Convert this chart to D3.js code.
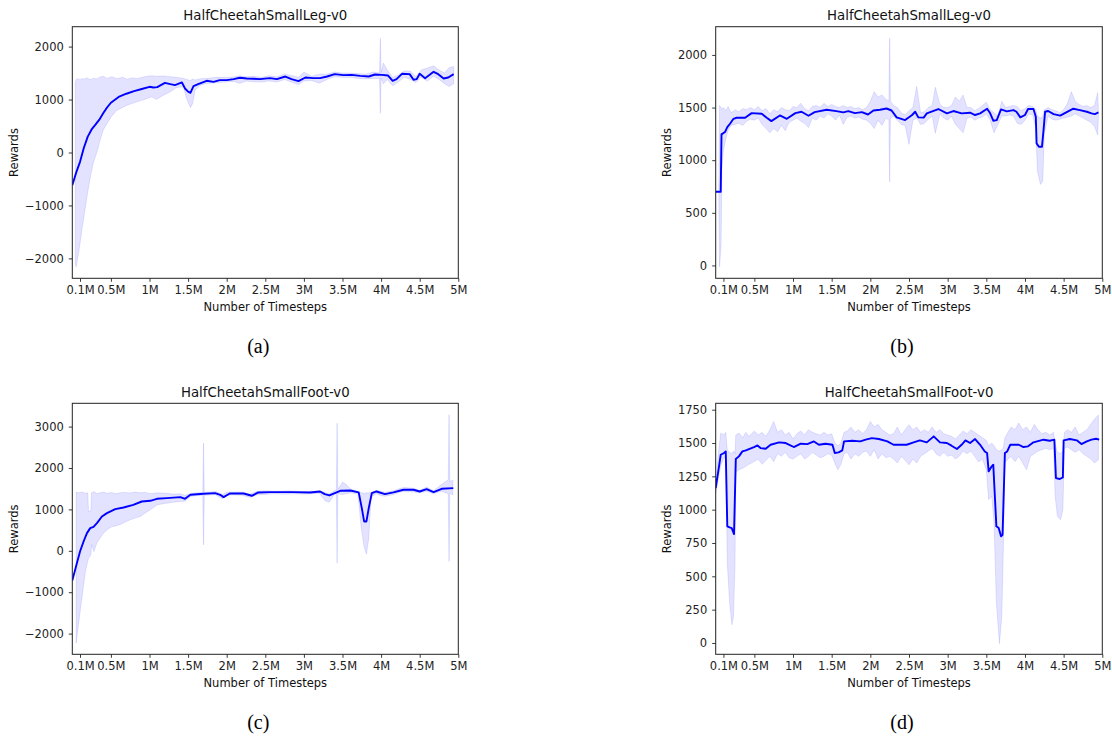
<!DOCTYPE html>
<html>
<head>
<meta charset="utf-8">
<script src="https://cdn.jsdelivr.net/npm/d3@7"></script>
<style>
body { margin: 0; background: #fff; }
svg { font-family: "DejaVu Sans", sans-serif; }
</style>
</head>
<body>
<div class="chart"></div>
<script>
// x values are in millions of timesteps
const xTicks = [0.1, 0.5, 1, 1.5, 2, 2.5, 3, 3.5, 4, 4.5, 5]
const xTickLabels = ['0.1M', '0.5M', '1M', '1.5M', '2M', '2.5M', '3M', '3.5M', '4M', '4.5M', '5M']

// (a) HalfCheetahSmallLeg-v0
const aYTicks = [-2000, -1000, 0, 1000, 2000]
const aDomain = [-2376, 2376]
const aMeanX = [
  0, 0.05, 0.1, 0.15, 0.2, 0.25, 0.3, 0.35, 0.4, 0.45,
  0.5, 0.6, 0.7, 0.8, 0.9, 1.0, 1.05, 1.1, 1.2, 1.27,
  1.33, 1.42, 1.46, 1.5, 1.53, 1.57, 1.63, 1.74, 1.83, 1.91,
  2.0, 2.09, 2.17, 2.26, 2.35, 2.43, 2.56, 2.65, 2.76, 2.84,
  2.93, 3.02, 3.12, 3.21, 3.3, 3.4, 3.51, 3.62, 3.73, 3.84,
  3.92, 4.01, 4.09, 4.15, 4.2, 4.27, 4.37, 4.42, 4.46, 4.5,
  4.57, 4.68, 4.74, 4.81, 4.87, 4.94]
const aMean = [
  -617, -380, -176, 90, 300, 435, 525, 620, 740, 850,
  940, 1050, 1110, 1160, 1200, 1241, 1228, 1235, 1316, 1291,
  1272, 1323, 1209, 1150, 1128, 1254, 1291, 1354, 1335, 1367,
  1367, 1386, 1411, 1398, 1392, 1385, 1404, 1385, 1435, 1385,
  1348, 1416, 1404, 1404, 1435, 1480, 1461, 1467, 1448, 1435,
  1473, 1467, 1454, 1354, 1385, 1486, 1480, 1373, 1385, 1486,
  1404, 1524, 1480, 1398, 1416, 1480]
const aBandX = [
  0.04, 0.05, 0.08, 0.1, 0.125, 0.15, 0.19, 0.23, 0.27, 0.32,
  0.36, 0.4, 0.45, 0.51, 0.58, 0.65, 0.71, 0.78, 0.84, 0.9,
  0.97, 1.03, 1.09, 1.18, 1.27, 1.35, 1.44, 1.48, 1.53, 1.56,
  1.59, 1.66, 1.74, 1.87, 2.0, 2.1, 2.17, 2.25, 2.35, 2.45,
  2.55, 2.65, 2.75, 2.85, 2.93, 3.0, 3.1, 3.2, 3.3, 3.4,
  3.5, 3.6, 3.7, 3.8, 3.9, 3.98, 3.99, 4.0, 4.03, 4.08,
  4.15, 4.22, 4.3, 4.38, 4.45, 4.52, 4.6, 4.68, 4.75, 4.82,
  4.88, 4.94]
const aBandLo = [
  -2100, -2160, -1909, -1720, -1450, -1216, -838, -491, -208, 13,
  233, 422, 548, 687, 800, 850, 894, 930, 957, 985,
  1020, 1052, 1001, 1083, 1146, 1228, 1241, 1020, 850, 926,
  1178, 1272, 1304, 1316, 1335, 1340, 1304, 1350, 1335, 1330,
  1350, 1330, 1380, 1320, 1285, 1350, 1360, 1310, 1380, 1430,
  1420, 1420, 1400, 1390, 1400, 1400, 740, 1410, 1300, 1380,
  1260, 1330, 1420, 1380, 1320, 1420, 1350, 1440, 1380, 1300,
  1247, 1300]
const aBandHi = [
  1330, 1380, 1395, 1370, 1400, 1385, 1410, 1375, 1400, 1390,
  1425, 1440, 1400, 1430, 1395, 1420, 1385, 1410, 1395, 1420,
  1440, 1450, 1440, 1445, 1430, 1420, 1400, 1380, 1360, 1390,
  1370, 1395, 1400, 1420, 1415, 1430, 1450, 1430, 1440, 1420,
  1450, 1430, 1480, 1450, 1420, 1520, 1440, 1480, 1480, 1520,
  1500, 1500, 1490, 1480, 1520, 1500, 2157, 1510, 1688, 1560,
  1420, 1460, 1540, 1540, 1430, 1560, 1594, 1638, 1560, 1500,
  1600, 1625]

// (b) HalfCheetahSmallLeg-v0
const bYTicks = [0, 500, 1000, 1500, 2000]
const bDomain = [-122, 2268]
const bMeanX = [
  0, 0.055, 0.065, 0.075, 0.12, 0.15, 0.185, 0.23, 0.27, 0.38,
  0.465, 0.595, 0.66, 0.72, 0.83, 0.92, 1.03, 1.11, 1.2, 1.28,
  1.435, 1.56, 1.65, 1.715, 1.8, 1.89, 1.97, 2.04, 2.125, 2.21,
  2.275, 2.34, 2.45, 2.54, 2.58, 2.62, 2.69, 2.73, 2.88, 2.99,
  3.075, 3.18, 3.29, 3.355, 3.42, 3.51, 3.55, 3.59, 3.635, 3.69,
  3.765, 3.85, 3.89, 3.94, 4.0, 4.04, 4.11, 4.14, 4.15, 4.18,
  4.22, 4.24, 4.26, 4.3, 4.37, 4.455, 4.54, 4.625, 4.71, 4.8,
  4.86, 4.905, 4.95]
const bMean = [
  700, 700, 700, 1245, 1267, 1314, 1346, 1393, 1403, 1403,
  1447, 1441, 1403, 1371, 1425, 1393, 1447, 1460, 1422, 1457,
  1479, 1466, 1454, 1466, 1447, 1457, 1434, 1472, 1479, 1491,
  1472, 1407, 1381, 1429, 1460, 1407, 1404, 1445, 1486, 1445,
  1467, 1445, 1451, 1429, 1445, 1489, 1445, 1375, 1381, 1482,
  1464, 1476, 1460, 1407, 1429, 1486, 1486, 1413, 1160, 1128,
  1128, 1286, 1460, 1467, 1438, 1423, 1457, 1489, 1476, 1460,
  1445, 1438, 1454]
const bBandX = [
  0.04, 0.05, 0.07, 0.08, 0.1, 0.13, 0.16, 0.2, 0.25, 0.3,
  0.35, 0.4, 0.45, 0.5, 0.55, 0.6, 0.65, 0.7, 0.75, 0.8,
  0.85, 0.9, 0.95, 1.0, 1.05, 1.1, 1.15, 1.2, 1.25, 1.3,
  1.35, 1.4, 1.45, 1.5, 1.55, 1.6, 1.65, 1.7, 1.75, 1.8,
  1.85, 1.9, 1.95, 2.0, 2.05, 2.1, 2.15, 2.2, 2.24, 2.25,
  2.26, 2.3, 2.35, 2.4, 2.45, 2.5, 2.55, 2.6, 2.65, 2.7,
  2.75, 2.8, 2.84, 2.9, 2.95, 3.0, 3.05, 3.1, 3.15, 3.2,
  3.25, 3.3, 3.35, 3.4, 3.45, 3.5, 3.55, 3.6, 3.65, 3.7,
  3.75, 3.8, 3.85, 3.9, 3.95, 4.0, 4.05, 4.1, 4.14, 4.16,
  4.2, 4.23, 4.25, 4.3, 4.35, 4.4, 4.45, 4.5, 4.55, 4.6,
  4.65, 4.7, 4.75, 4.8, 4.85, 4.9, 4.94, 4.95]
const bBandLo = [
  700, -13, 200, 900, 1093, 1200, 1283, 1330, 1340, 1350,
  1330, 1370, 1390, 1380, 1400, 1340, 1300, 1260, 1300, 1270,
  1330, 1280, 1360, 1380, 1400, 1370, 1350, 1310, 1400, 1380,
  1420, 1400, 1440, 1420, 1380, 1430, 1340, 1410, 1420, 1400,
  1410, 1390, 1380, 1350, 1300, 1380, 1330, 1400, 1380, 795,
  1400, 1420, 1380, 1340, 1330, 1150, 1380, 1400, 1340, 1350,
  1390, 1420, 1255, 1440, 1400, 1380, 1420, 1340, 1300, 1260,
  1400, 1410, 1380, 1400, 1410, 1440, 1380, 1260, 1340, 1420,
  1420, 1430, 1420, 1350, 1340, 1380, 1440, 1430, 1300, 900,
  770, 800, 1250, 1420, 1390, 1380, 1390, 1400, 1410, 1420,
  1440, 1420, 1400, 1380, 1360, 1320, 1240, 1400]
const bBandHi = [
  700, 1520, 1500, 1480, 1500, 1470, 1510, 1450, 1480, 1460,
  1490, 1480, 1500, 1480, 1510, 1470, 1490, 1440, 1480, 1460,
  1500, 1480, 1470, 1510, 1500, 1540, 1490, 1470, 1510, 1520,
  1500, 1540, 1510, 1530, 1510, 1500, 1520, 1500, 1510, 1490,
  1500, 1480, 1500, 1560, 1651, 1600, 1620, 1580, 1560, 2159,
  1560, 1520, 1500, 1450, 1430, 1470, 1500, 1700, 1450, 1460,
  1500, 1520, 1693, 1530, 1500, 1500, 1520, 1600, 1560, 1620,
  1500, 1500, 1470, 1490, 1520, 1550, 1480, 1450, 1420, 1560,
  1500, 1510, 1520, 1510, 1470, 1490, 1520, 1510, 1480, 1420,
  1400, 1420, 1480, 1500, 1480, 1470, 1450, 1480, 1540, 1651,
  1560, 1530, 1510, 1520, 1500, 1520, 1640, 1480]

// (c) HalfCheetahSmallFoot-v0
const cYTicks = [-2000, -1000, 0, 1000, 2000, 3000]
const cDomain = [-2500, 3563]
const cMeanX = [
  0, 0.06, 0.1, 0.146, 0.19, 0.232, 0.275, 0.319, 0.384, 0.449,
  0.556, 0.664, 0.79, 0.9, 1.01, 1.096, 1.225, 1.4, 1.46, 1.53,
  1.7, 1.85, 1.915, 1.96, 2.04, 2.22, 2.325, 2.41, 2.56, 2.65,
  2.86, 3.08, 3.21, 3.27, 3.33, 3.47, 3.6, 3.71, 3.75, 3.78,
  3.81, 3.84, 3.88, 3.94, 4.05, 4.16, 4.29, 4.42, 4.5, 4.59,
  4.68, 4.785, 4.935]
const cMean = [
  -720, -297, -17, 225, 427, 548, 580, 669, 829, 910,
  1007, 1047, 1111, 1191, 1208, 1256, 1272, 1296, 1256, 1353,
  1377, 1393, 1353, 1296, 1385, 1385, 1329, 1410, 1417, 1417,
  1417, 1410, 1433, 1369, 1337, 1449, 1457, 1410, 1031, 709,
  709, 1031, 1393, 1433, 1369, 1410, 1474, 1474, 1433, 1490,
  1417, 1498, 1514]
const cBandX = [
  0.05, 0.085, 0.13, 0.17, 0.2, 0.21, 0.24, 0.25, 0.28, 0.32,
  0.36, 0.4, 0.45, 0.51, 0.56, 0.62, 0.68, 0.75, 0.81, 0.88,
  0.95, 1.01, 1.1, 1.22, 1.3, 1.4, 1.46, 1.53, 1.6, 1.69,
  1.7, 1.71, 1.8, 1.85, 1.9, 1.95, 2.0, 2.1, 2.2, 2.3,
  2.4, 2.5, 2.6, 2.7, 2.8, 2.9, 3.0, 3.1, 3.2, 3.28,
  3.33, 3.4, 3.42, 3.43, 3.44, 3.5, 3.55, 3.6, 3.7, 3.74,
  3.78, 3.81, 3.84, 3.87, 3.94, 4.0, 4.05, 4.16, 4.25, 4.3,
  4.42, 4.5, 4.59, 4.68, 4.78, 4.87, 4.88, 4.89, 4.93]
const cBandLo = [
  -2230, -1707, -1063, -500, -250, -177, -100, 150, -17, 200,
  306, 420, 507, 580, 600, 636, 690, 749, 790, 829,
  920, 990, 1111, 1151, 1170, 1191, 1200, 1313, 1330, 1340,
  145, 1340, 1350, 1360, 1300, 1260, 1340, 1350, 1340, 1290,
  1360, 1360, 1380, 1370, 1370, 1380, 1370, 1380, 1390, 1200,
  1176, 1380, 1370, -297, 1380, 1360, 1380, 1400, 1380, 600,
  100, -80, 300, 1300, 1380, 1330, 1320, 1360, 1420, 1430,
  1420, 1400, 1440, 1380, 1440, 1380, -258, 1400, 1353]
const cBandHi = [
  1418, 1400, 1420, 1390, 1400, 950, 960, 1400, 1430, 1380,
  1400, 1420, 1390, 1410, 1380, 1400, 1410, 1395, 1420, 1400,
  1410, 1380, 1400, 1390, 1370, 1380, 1340, 1380, 1400, 1410,
  2600, 1410, 1420, 1440, 1400, 1360, 1420, 1420, 1420, 1370,
  1440, 1450, 1440, 1440, 1450, 1440, 1430, 1440, 1450, 1400,
  1380, 1460, 1450, 3084, 1480, 1659, 1600, 1500, 1430, 1400,
  1390, 1400, 1400, 1410, 1460, 1440, 1410, 1450, 1510, 1530,
  1510, 1460, 1540, 1450, 1600, 1715, 3285, 1680, 1700]

// (d) HalfCheetahSmallFoot-v0
const dYTicks = [0, 250, 500, 750, 1000, 1250, 1500, 1750]
const dDomain = [-85, 1798]
const dMeanX = [
  0, 0.043, 0.065, 0.108, 0.13, 0.15, 0.18, 0.207, 0.237, 0.26,
  0.3, 0.345, 0.39, 0.43, 0.496, 0.54, 0.58, 0.646, 0.71, 0.82,
  0.905, 1.01, 1.1, 1.185, 1.27, 1.335, 1.42, 1.51, 1.54, 1.59,
  1.637, 1.66, 1.766, 1.87, 1.94, 2.02, 2.11, 2.22, 2.3, 2.41,
  2.47, 2.56, 2.64, 2.73, 2.82, 2.9, 2.99, 3.05, 3.12, 3.18,
  3.23, 3.29, 3.355, 3.42, 3.48, 3.51, 3.53, 3.57, 3.59, 3.63,
  3.66, 3.69, 3.71, 3.74, 3.77, 3.81, 3.92, 3.98, 4.04, 4.11,
  4.24, 4.32, 4.38, 4.4, 4.45, 4.49, 4.5, 4.58, 4.67, 4.73,
  4.8, 4.86, 4.92, 4.96]
const dMean = [
  1162, 1325, 1412, 1425, 1437, 875, 867, 862, 817, 1380,
  1400, 1437, 1445, 1455, 1470, 1482, 1462, 1457, 1487, 1505,
  1500, 1470, 1495, 1492, 1512, 1487, 1495, 1487, 1425, 1430,
  1445, 1512, 1517, 1512, 1525, 1537, 1530, 1512, 1487, 1487,
  1487, 1505, 1520, 1505, 1550, 1505, 1500, 1480, 1455, 1487,
  1520, 1500, 1530, 1487, 1437, 1425, 1287, 1325, 1337, 875,
  862, 800, 812, 1425, 1437, 1487, 1487, 1470, 1475, 1505,
  1525, 1517, 1525, 1237, 1230, 1242, 1520, 1530, 1520, 1492,
  1512, 1525, 1532, 1525]
const dBandX = [
  0, 0.04, 0.065, 0.1, 0.13, 0.15, 0.18, 0.21, 0.23, 0.25,
  0.26, 0.3, 0.35, 0.39, 0.43, 0.5, 0.55, 0.6, 0.65, 0.7,
  0.75, 0.8, 0.85, 0.9, 0.95, 1.0, 1.05, 1.1, 1.15, 1.2,
  1.25, 1.3, 1.35, 1.4, 1.45, 1.5, 1.54, 1.58, 1.62, 1.66,
  1.7, 1.75, 1.8, 1.85, 1.9, 1.95, 2.0, 2.05, 2.1, 2.15,
  2.2, 2.25, 2.3, 2.35, 2.4, 2.45, 2.5, 2.55, 2.6, 2.65,
  2.7, 2.75, 2.8, 2.85, 2.9, 2.95, 3.0, 3.05, 3.1, 3.15,
  3.2, 3.25, 3.3, 3.35, 3.4, 3.45, 3.5, 3.53, 3.57, 3.6,
  3.63, 3.67, 3.7, 3.72, 3.74, 3.78, 3.82, 3.87, 3.92, 3.97,
  4.02, 4.07, 4.12, 4.17, 4.22, 4.27, 4.32, 4.37, 4.39, 4.42,
  4.46, 4.49, 4.51, 4.55, 4.6, 4.65, 4.7, 4.75, 4.8, 4.85,
  4.9, 4.95]
const dBandLo = [
  1120, 1250, 1330, 1380, 1400, 600, 300, 137, 200, 600,
  1280, 1300, 1310, 1325, 1340, 1362, 1380, 1340, 1370, 1400,
  1360, 1420, 1400, 1430, 1390, 1380, 1400, 1420, 1380, 1400,
  1430, 1410, 1390, 1400, 1420, 1410, 1350, 1300, 1340, 1420,
  1430, 1380, 1420, 1400, 1430, 1440, 1400, 1450, 1380, 1420,
  1390, 1400, 1380, 1350, 1400, 1370, 1337, 1380, 1350, 1400,
  1420, 1440, 1460, 1420, 1400, 1430, 1400, 1410, 1380, 1400,
  1440, 1420, 1440, 1400, 1357, 1380, 1300, 1075, 1100, 900,
  300, -5, 200, 700, 1350, 1380, 1400, 1360, 1400, 1350,
  1300, 1400, 1420, 1440, 1450, 1460, 1450, 1460, 1100, 950,
  925, 1000, 1460, 1470, 1450, 1430, 1450, 1420, 1400, 1380,
  1350, 1375]
const dBandHi = [
  1200, 1450, 1575, 1560, 1580, 1450, 1430, 1420, 1440, 1420,
  1560, 1575, 1540, 1580, 1550, 1590, 1560, 1580, 1550, 1600,
  1662, 1580, 1600, 1560, 1580, 1530, 1570, 1590, 1560, 1600,
  1580, 1570, 1560, 1580, 1560, 1570, 1500, 1480, 1500, 1580,
  1590, 1620, 1580, 1600, 1570, 1600, 1662, 1620, 1640, 1600,
  1580, 1560, 1570, 1620, 1560, 1600, 1637, 1600, 1620, 1580,
  1600, 1580, 1620, 1580, 1600, 1570, 1560, 1550, 1530, 1560,
  1590, 1570, 1600, 1580, 1560, 1540, 1520, 1480, 1500, 1480,
  1450, 1440, 1450, 1460, 1540, 1580, 1620, 1600, 1650, 1600,
  1620, 1580, 1640, 1600, 1570, 1580, 1560, 1580, 1500, 1430,
  1420, 1440, 1580, 1600, 1580, 1620, 1560, 1580, 1600, 1640,
  1680, 1710]

const panels = [
  {title: 'HalfCheetahSmallLeg-v0', caption: '(a)', left: 72.3, right: 458.3, top: 26.7, bottom: 278.3, labelOff: 54,
    yDomain: aDomain, yTicks: aYTicks, meanX: aMeanX, mean: aMean, bandX: aBandX, lo: aBandLo, hi: aBandHi},
  {title: 'HalfCheetahSmallLeg-v0', caption: '(b)', left: 715.7, right: 1102.3, top: 26.7, bottom: 278.3, labelOff: 45,
    yDomain: bDomain, yTicks: bYTicks, meanX: bMeanX, mean: bMean, bandX: bBandX, lo: bBandLo, hi: bBandHi},
  {title: 'HalfCheetahSmallFoot-v0', caption: '(c)', left: 72.3, right: 458.3, top: 403.3, bottom: 654.3, labelOff: 54,
    yDomain: cDomain, yTicks: cYTicks, meanX: cMeanX, mean: cMean, bandX: cBandX, lo: cBandLo, hi: cBandHi},
  {title: 'HalfCheetahSmallFoot-v0', caption: '(d)', left: 715.7, right: 1102.3, top: 403.3, bottom: 654.3, labelOff: 45,
    yDomain: dDomain, yTicks: dYTicks, meanX: dMeanX, mean: dMean, bandX: dBandX, lo: dBandLo, hi: dBandHi}
]

const svg = d3.select('.chart')
  .append('svg')
  .attr('width', 1112)
  .attr('height', 740)

const numFmt = d => d < 0 ? '\u2212' + Math.abs(d) : String(d)

const styleAxis = (g) => {
  g.attr('font-family', null).attr('font-size', null)
  g.select('.domain').remove()
  g.selectAll('line').attr('stroke', '#222').attr('stroke-width', 0.9)
  g.selectAll('text').attr('font-size', '11.5px').attr('fill', '#222')
}

const drawPanel = (p, k) => {
  const x = d3.scaleLinear().domain([0, 5]).range([p.left, p.right])
  const y = d3.scaleLinear().domain(p.yDomain).range([p.bottom, p.top])

  const g = svg.append('g')

  g.append('clipPath')
    .attr('id', 'clip' + k)
    .append('rect')
    .attr('x', p.left).attr('y', p.top)
    .attr('width', p.right - p.left).attr('height', p.bottom - p.top)

  const band = p.bandX.map((v, i) => ({x: v, lo: p.lo[i], hi: p.hi[i]}))
  const line = p.meanX.map((v, i) => ({x: v, y: p.mean[i]}))

  const area = d3.area()
    .x(d => x(d.x))
    .y0(d => y(d.lo))
    .y1(d => y(d.hi))

  const lineGen = d3.line()
    .x(d => x(d.x))
    .y(d => y(d.y))

  const plot = g.append('g').attr('clip-path', `url(#clip${k})`)

  plot.append('path')
    .attr('d', area(band))
    .attr('fill', 'blue')
    .attr('fill-opacity', 0.11)
    .attr('stroke', 'blue')
    .attr('stroke-opacity', 0.1)
    .attr('stroke-width', 1)

  plot.append('path')
    .attr('d', lineGen(line))
    .attr('fill', 'none')
    .attr('stroke', '#0000ff')
    .attr('stroke-width', 1.9)
    .attr('stroke-linejoin', 'round')

  g.append('g')
    .attr('transform', `translate(0,${p.bottom})`)
    .call(d3.axisBottom(x)
      .tickValues(xTicks)
      .tickFormat((d, i) => xTickLabels[i])
      .tickSizeInner(3.5)
      .tickSizeOuter(0)
      .tickPadding(4.5))
    .call(styleAxis)

  g.append('g')
    .attr('transform', `translate(${p.left},0)`)
    .call(d3.axisLeft(y)
      .tickValues(p.yTicks)
      .tickFormat(numFmt)
      .tickSizeInner(3.5)
      .tickSizeOuter(0)
      .tickPadding(5))
    .call(styleAxis)

  g.append('rect')
    .attr('x', p.left).attr('y', p.top)
    .attr('width', p.right - p.left).attr('height', p.bottom - p.top)
    .attr('fill', 'none')
    .attr('stroke', '#222')
    .attr('stroke-width', 1)

  const cx = (p.left + p.right) / 2

  g.append('text')
    .attr('x', cx)
    .attr('y', p.top - 6.7)
    .attr('text-anchor', 'middle')
    .attr('font-size', '13.3px')
    .attr('fill', '#111')
    .text(p.title)

  g.append('text')
    .attr('x', cx)
    .attr('y', p.bottom + 33)
    .attr('text-anchor', 'middle')
    .attr('font-size', '11.5px')
    .attr('fill', '#111')
    .text('Number of Timesteps')

  g.append('text')
    .attr('transform', `translate(${p.left - p.labelOff},${(p.top + p.bottom) / 2}) rotate(-90)`)
    .attr('text-anchor', 'middle')
    .attr('font-size', '11.5px')
    .attr('fill', '#111')
    .text('Rewards')

  g.append('text')
    .attr('x', cx - 7)
    .attr('y', p.bottom + 74.5)
    .attr('text-anchor', 'middle')
    .attr('font-family', '"Liberation Serif", "Times New Roman", serif')
    .attr('font-size', '20px')
    .attr('fill', '#000')
    .text(p.caption)
}

panels.forEach(drawPanel)
</script>
</body>
</html>
